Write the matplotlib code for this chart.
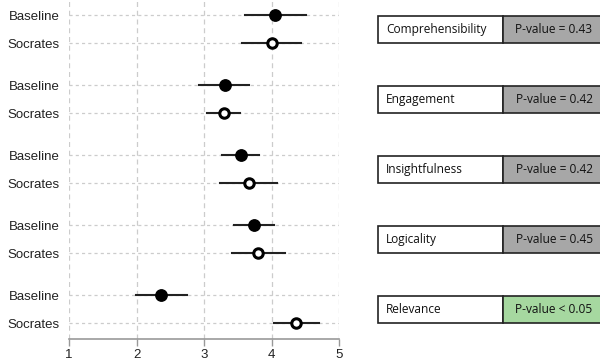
import matplotlib
matplotlib.use("Agg")
import matplotlib.pyplot as plt
from matplotlib.patches import Rectangle

metrics = ["Comprehensibility", "Engagement", "Insightfulness", "Logicality", "Relevance"]
pvalues = ["P-value = 0.43", "P-value = 0.42", "P-value = 0.42", "P-value = 0.45", "P-value < 0.05"]
significant = [False, False, False, False, True]

baseline_mean = [4.05, 3.31, 3.55, 3.74, 2.37]
baseline_lo = [3.61, 2.93, 3.27, 3.45, 1.99]
baseline_hi = [4.51, 3.67, 3.82, 4.04, 2.75]

socrates_mean = [4.00, 3.30, 3.67, 3.80, 4.37]
socrates_lo = [3.57, 3.05, 3.24, 3.41, 4.04]
socrates_hi = [4.43, 3.54, 4.08, 4.20, 4.70]

xticks = [1, 2, 3, 4, 5]

W, H = 600, 364
fig = plt.figure(figsize=(6, 3.64), dpi=100)
plt.rcParams['font.family'] = ['Liberation Sans', 'DejaVu Sans']

ax_l, ax_r = 69, 339
ax_bottom_px = 339
ax = fig.add_axes([ax_l / W, 1 - ax_bottom_px / H, (ax_r - ax_l) / W, ax_bottom_px / H])

period = 2.5
ylo = -15 / 28
yhi = (ax_bottom_px - 15) / 28
ax.set_xlim(1, 5)
ax.set_ylim(yhi, ylo)

ypos_b = [i * period for i in range(len(metrics))]
ypos_s = [i * period + 1 for i in range(len(metrics))]

# grid
for x in xticks:
    ax.axvline(x, color='#cccccc', lw=0.9, ls=(0, (4, 3)), zorder=0)
for y in ypos_b + ypos_s:
    ax.axhline(y, color='#cccccc', lw=0.9, ls=(0, (2.5, 2.5)), zorder=0)

for i in range(len(metrics)):
    ax.plot([baseline_lo[i], baseline_hi[i]], [ypos_b[i]] * 2, color='#222222', lw=1.5, zorder=2)
    ax.plot([baseline_mean[i]], [ypos_b[i]], 'o', ms=8.2, color='black', zorder=3)
    ax.plot([socrates_lo[i], socrates_hi[i]], [ypos_s[i]] * 2, color='#222222', lw=1.5, zorder=2)
    ax.plot([socrates_mean[i]], [ypos_s[i]], 'o', ms=6.8, mfc='white', mec='black', mew=2.2, zorder=3)

ax.set_yticks(ypos_b + ypos_s)
ax.set_yticklabels(["Baseline"] * len(metrics) + ["Socrates"] * len(metrics), fontsize=9.5, color='#222222')
ax.tick_params(axis='y', length=0, pad=7)
ax.set_xticks(xticks)
ax.set_xticklabels([str(x) for x in xticks], fontsize=9.5, color='#222222')
ax.tick_params(axis='x', length=5, color='#999999', width=1, pad=2)
for s in ['top', 'right', 'left']:
    ax.spines[s].set_visible(False)
ax.spines['bottom'].set_color('#999999')
ax.spines['bottom'].set_linewidth(1.2)

# right panel
axr = fig.add_axes([0, 1 - ax_bottom_px / H, 1, ax_bottom_px / H])
axr.set_xlim(0, W)
axr.set_ylim(yhi, ylo)
axr.axis('off')
axr.patch.set_alpha(0)
for i in range(len(metrics)):
    y0 = ypos_b[i] + 0.04
    h = 0.97
    axr.add_patch(Rectangle((378, y0), 125, h, facecolor='white', edgecolor='#222222', lw=1.2, clip_on=False))
    fc = '#a6d8a0' if significant[i] else '#a7a7a7'
    axr.add_patch(Rectangle((503, y0), 110, h, facecolor=fc, edgecolor='#222222', lw=1.2, clip_on=False))
    yc = y0 + h / 2
    axr.text(386, yc, metrics[i], ha='left', va='center', fontsize=8.6, family=['Open Sans', 'DejaVu Sans'], color='#111111')
    axr.text(554, yc, pvalues[i], ha='center', va='center', fontsize=8.6, family=['Open Sans', 'DejaVu Sans'], color='#111111')

fig.savefig("out.png", dpi=100)
